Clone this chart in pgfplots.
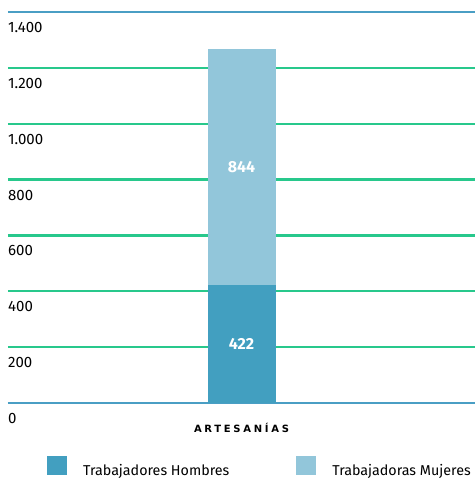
\documentclass[border=0pt]{standalone}
\usepackage{fontspec}
\setmainfont{Fira Sans}
\newfontfamily\catfont[LetterSpace=27]{DejaVu Sans}
\usepackage{pgfplots}
\pgfplotsset{compat=1.18}
\definecolor{hombres}{HTML}{429FC0}
\definecolor{mujeres}{HTML}{92C6DA}
\definecolor{gridline}{RGB}{40,200,140}
\definecolor{edgeblue}{HTML}{4A9EC4}
\begin{document}
\begin{tikzpicture}
\path[use as bounding box] (-8pt,-75pt) rectangle (467pt,403pt);
\begin{axis}[
  at={(0pt,0pt)}, anchor=south west,
  scale only axis, width=467pt, height=391pt,
  ybar stacked, bar width=68pt,
  xmin=-1, xmax=1, ymin=0, ymax=1400,
  axis line style={draw=none},
  tick style={draw=none},
  xtick={0}, xticklabels={ARTESANÍAS},
  xticklabel style={font=\catfont\bfseries\fontsize{10}{12}\selectfont, anchor=base, inner sep=0pt, yshift=-29pt},
  ytick={0,200,400,600,800,1000,1200,1400},
  ymajorgrids=true,
  grid style={color=gridline, line width=2.2pt},
  major tick length=0pt,
  yticklabel style={anchor=base west, inner sep=0pt, yshift=-20.5pt,
    font=\fontsize{15}{17}\selectfont,
    /pgf/number format/1000 sep={.}, /pgf/number format/assume math mode=true},
  legend image code/.code={\fill[#1] (0pt,-4.5pt) rectangle (20pt,14.5pt);},
  legend style={at={(0.0835,-0.1652)}, anchor=west, draw=none, fill=none,
    legend columns=2, inner sep=0pt,
    font=\fontsize{14.3}{16}\selectfont,
    /tikz/every odd column/.append style={column sep=14pt},
    /tikz/every even column/.append style={column sep=65pt}},
]
\addplot[fill=hombres, draw=none, nodes near coords, point meta=rawy,
  every node near coord/.append style={anchor=center, text=white,
    font=\bfseries\fontsize{16}{18}\selectfont, /pgf/number format/assume math mode=true}]
  coordinates {(0,422)};
\addlegendentry{Trabajadores Hombres}
\addplot[fill=mujeres, draw=none, nodes near coords, point meta=rawy,
  every node near coord/.append style={anchor=center, text=white,
    font=\bfseries\fontsize{16}{18}\selectfont, /pgf/number format/assume math mode=true}]
  coordinates {(0,844)};
\addlegendentry{Trabajadoras Mujeres}
\draw[edgeblue, line width=3pt] (axis cs:-1,0) -- (axis cs:1,0);
\draw[edgeblue, line width=3pt] (axis cs:-1,1400) -- (axis cs:1,1400);
\end{axis}
\end{tikzpicture}
\end{document}
